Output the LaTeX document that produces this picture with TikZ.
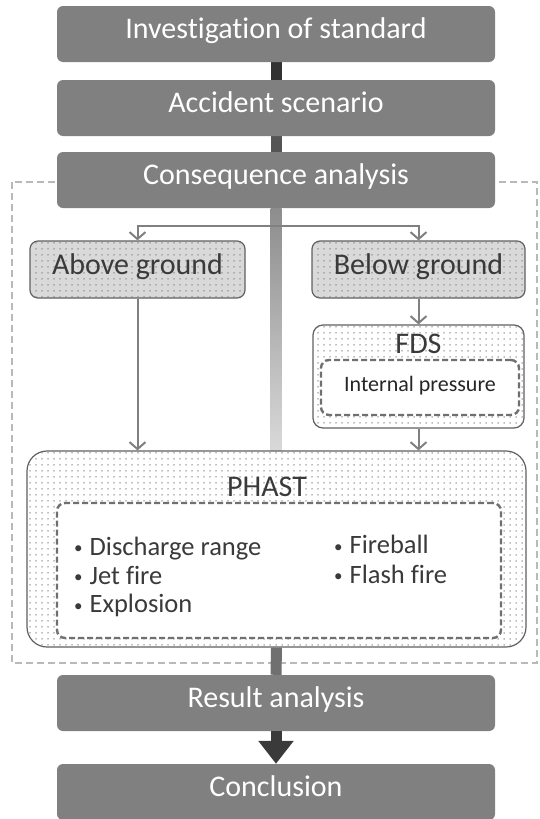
\documentclass[tikz,border=0pt]{standalone}
\usepackage{fontspec}
\setmainfont{Carlito}[Ligatures=NoCommon]
\usetikzlibrary{arrows.meta, backgrounds, patterns, calc}
\definecolor{boxgray}{RGB}{128, 128, 128}
\definecolor{ink}{RGB}{58, 58, 58}
\definecolor{edge}{RGB}{96, 96, 96}
\definecolor{soft}{RGB}{217, 217, 217}
\definecolor{dotgray}{RGB}{125, 125, 125}
\definecolor{frame}{RGB}{185, 185, 185}
\definecolor{bardark}{RGB}{50, 50, 50}
\definecolor{barmid}{RGB}{85, 85, 85}
\definecolor{barlow}{RGB}{112, 112, 112}
\pgfdeclarepatternformonly{sparsedots}{\pgfqpoint{-1pt}{-1pt}}{\pgfqpoint{1pt}{1pt}}{\pgfqpoint{6pt}{6pt}}
{\pgfpathcircle{\pgfqpoint{0pt}{0pt}}{0.75pt}\pgfusepath{fill}}
\newcommand{\dotitem}{{\fontsize{17}{17}\selectfont\raisebox{1.5pt}{\textbullet}}\hspace{7pt}}

\begin{document}
\begin{tikzpicture}[x=1pt, y=-1pt,
  stage/.style={rounded corners=6pt, fill=boxgray, text=white, minimum width=438pt,
    minimum height=56pt, text height=0.85em, text depth=0pt, font=\fontsize{30}{36}\selectfont},
  ground/.style={draw=edge, line width=1.2pt, rounded corners=8pt, fill=soft,
    postaction={pattern=sparsedots, pattern color=dotgray}, text=ink, minimum height=57pt,
    text height=0.9em, text depth=0pt, font=\fontsize{30}{36}\selectfont},
  tool/.style={draw=edge, line width=1.2pt, fill=white,
    postaction={pattern=sparsedots, pattern color=dotgray}},
  toolname/.style={anchor=base, text=ink, inner sep=0pt, font=\fontsize{30}{36}\selectfont},
  inner/.style={draw=edge!90, line width=2.4pt, dash pattern=on 6pt off 3pt, rounded corners=8pt, fill=white},
  item/.style={anchor=base west, inner sep=0pt, text=ink, font=\fontsize{26.5}{30}\selectfont},
  link/.style={draw=boxgray, line width=2pt},
  tip/.tip={Straight Barb[length=7pt, width=16pt]}]
  \useasboundingbox (0, 0) rectangle (540, 819);

  \node[stage] (inv) at (276, 34) {Investigation of standard};
  \node[stage] (acc) at (276, 108) {Accident scenario};
  \node[stage] (cons) at (276, 180) {Consequence analysis};

  \node[ground, minimum width=215pt] (above) at (137.5, 269.5) {Above ground};
  \node[ground, minimum width=213pt] (below) at (418.5, 269.5) {Below ground};
  \coordinate (fork) at (276, 226);

  \node[tool, rounded corners=10pt, minimum width=211pt, minimum height=103pt] (fds) at (418.5, 376.5) {};
  \node[toolname] (fdsname) at (418.5, 353) {FDS};
  \node[inner, minimum width=198pt, minimum height=55pt, text=black!85, text height=0.8em, text depth=0pt,
    font=\fontsize{22}{26}\selectfont] (pressure) at (420, 387.5) {Internal pressure};

  \node[tool, rounded corners=20pt, minimum width=499pt, minimum height=196pt] (phast) at (276.5, 549) {};
  \node[toolname] (phastname) at (267, 496) {PHAST};
  \node[inner, minimum width=444pt, minimum height=135pt] (hazards) at (279, 570.5) {};
  \node[item] (discharge) at (74, 555) {\dotitem Discharge range};
  \node[item] (jetfire) at (74, 584) {\dotitem Jet fire};
  \node[item] (explosion) at (74, 612.5) {\dotitem Explosion};
  \node[item] (fireball) at (334, 553.5) {\dotitem Fireball};
  \node[item] (flashfire) at (334, 583) {\dotitem Flash fire};

  \node[stage] (res) at (276, 703) {Result analysis};
  \node[stage] (concl) at (276, 792) {Conclusion};

  \begin{scope}[on background layer]
    \draw[frame, line width=1.5pt, dash pattern=on 7pt off 4pt] (12, 182) rectangle (537, 663);
    \draw[bardark, line width=11pt] (inv.south) -- (acc.north);
    \draw[barmid, line width=11pt] (acc.south) -- (cons.north);
    \shade[top color=boxgray!90, bottom color=soft] ($(cons.south)+(-5.5, 0)$) rectangle ($(cons.south |- phast.north)+(5.5, 0)$);
    \draw[barlow, line width=11pt] (phast.south) -- (res.north);
  \end{scope}

  \draw[ink, line width=11pt, -{Triangle[width=34pt, length=23pt]}] (res.south) -- (concl.north);

  \draw[link, tip-tip] (above.north) -- (above.north |- fork) -- (below.north |- fork) -- (below.north);
  \draw[link, -tip] (above.south) -- (above.south |- phast.north);
  \draw[link, -tip] (below.south) -- (below.south |- fds.north);
  \draw[link, -tip] (below.south |- fds.south) -- (below.south |- phast.north);
\end{tikzpicture}
\end{document}
